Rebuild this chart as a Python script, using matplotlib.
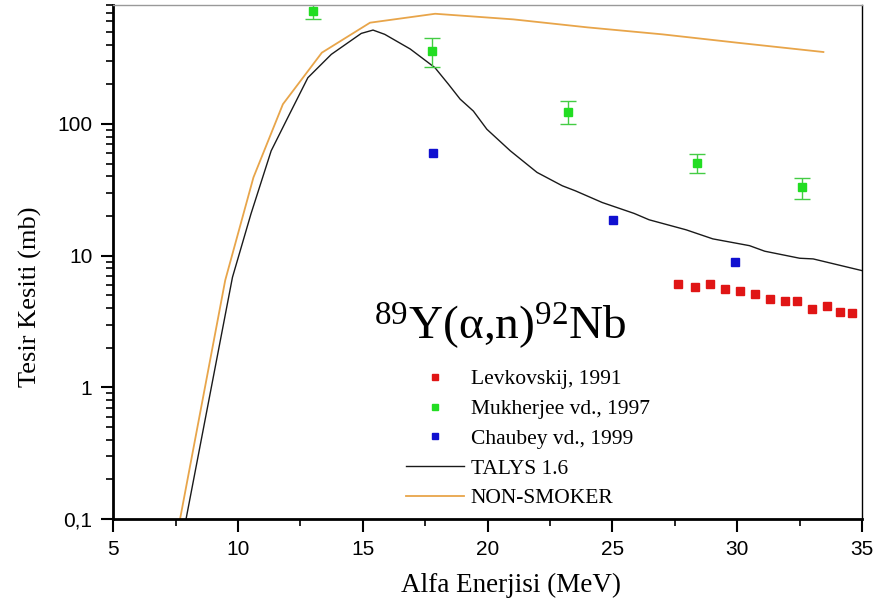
"""89Y(a,n)92Nb excitation function: experimental data vs TALYS 1.6 and NON-SMOKER."""
import matplotlib

matplotlib.use("Agg")
import matplotlib.pyplot as plt
from matplotlib.lines import Line2D
from matplotlib.ticker import FixedLocator, LogLocator, NullFormatter

plt.rcParams.update(
    {
        "font.family": "serif",
        "font.serif": ["Liberation Serif", "DejaVu Serif"],
        "mathtext.fontset": "custom",
        "mathtext.rm": "Liberation Serif",
        "mathtext.it": "Liberation Serif:italic",
        "mathtext.bf": "Liberation Serif:bold",
    }
)

levk_e = [27.62, 28.31, 28.90, 29.50, 30.11, 30.71, 31.31, 31.91, 32.40, 33.01, 33.60, 34.10, 34.61]
levk_s = [6.1, 5.82, 6.1, 5.59, 5.37, 5.07, 4.70, 4.54, 4.54, 3.95, 4.16, 3.74, 3.66]

mukh_e = [13.01, 17.78, 23.22, 28.39, 32.59]
mukh_s = [718, 357, 123, 50.7, 32.9]
mukh_lo = [94, 87, 23, 8.1, 5.9]
mukh_hi = [94, 92, 26, 8.3, 6.1]

chau_e = [17.82, 25.02, 29.91]
chau_s = [60, 18.5, 9.0]

# model calculations
talys_e = [7.92, 9.78, 10.52, 11.33, 12.0, 12.8, 13.74, 14.94, 15.41, 15.88, 16.9, 17.89,
           18.43, 18.9, 19.43, 19.97, 20.91, 21.98, 22.99, 23.52, 24.59, 25.87, 26.47, 27.95,
           29.02, 30.49, 31.10, 32.50, 33.04, 35.0]
talys_s = [0.1, 6.85, 20.7, 62.4, 112, 224, 337, 486, 515, 478, 370, 267,
           200, 154, 125, 91, 62.4, 42.8, 33.9, 31.0, 25.3, 20.9, 18.7, 15.7,
           13.4, 11.9, 10.8, 9.55, 9.44, 7.69]

nonsm_e = [7.68, 9.49, 10.62, 11.80, 13.36, 15.29, 17.9, 21.03, 24.0, 27.0, 30.0, 33.45]
nonsm_s = [0.1, 6.5, 39.2, 141, 347, 586, 685, 621, 540, 478, 413, 351]

y_ticks = [0.1, 1, 10, 100]
y_ticklabels = ["0,1", "1", "10", "100"]
x_ticks = [5, 10, 15, 20, 25, 30, 35]

RED, GREEN, BLUE = "#E01515", "#22DD22", "#1010D0"
BLACK, ORANGE = "#1a1a1a", "#E8A54A"

fig = plt.figure(figsize=(8.77, 6.10), dpi=100)
ax = fig.add_axes([0.129, 0.149, 0.854, 0.843])

ax.plot(talys_e, talys_s, color=BLACK, lw=1.0)
ax.plot(nonsm_e, nonsm_s, color=ORANGE, lw=1.3)

ax.plot(levk_e, levk_s, ls="none", marker="s", ms=5.5, color=RED)
ax.errorbar(mukh_e, mukh_s, yerr=[mukh_lo, mukh_hi], ls="none", marker="s", ms=5.5,
            color=GREEN, ecolor="#44CC44", elinewidth=1.0, capsize=6, capthick=1.0)
ax.plot(chau_e, chau_s, ls="none", marker="s", ms=5.5, color=BLUE)

ax.set_yscale("log")
ax.set_xlim(5, 35)
ax.set_ylim(0.1, 800)

ax.yaxis.set_major_locator(FixedLocator(y_ticks))
ax.set_yticklabels(y_ticklabels)
ax.yaxis.set_minor_locator(LogLocator(base=10, subs=range(2, 10)))
ax.yaxis.set_minor_formatter(NullFormatter())
ax.set_xticks(x_ticks)
ax.set_xticks([7.5, 12.5, 17.5, 22.5, 27.5, 32.5], minor=True)

for lab in ax.get_xticklabels() + ax.get_yticklabels():
    lab.set_family("Liberation Sans")
    lab.set_fontsize(15)

ax.tick_params(which="major", direction="out", length=9, width=1.5, pad=6)
ax.tick_params(which="minor", direction="out", length=5, width=1.2)
ax.tick_params(top=False, right=False)

ax.spines["left"].set_linewidth(2.0)
ax.spines["bottom"].set_linewidth(2.0)
ax.spines["right"].set_linewidth(1.0)
ax.spines["top"].set_linewidth(1.0)
ax.spines["top"].set_color("#999999")

ax.set_xlabel("Alfa Enerjisi (MeV)", fontsize=19.5)
ax.set_ylabel("Tesir Kesiti (mb)", fontsize=19)
ax.xaxis.set_label_coords(0.531, -0.104)
ax.yaxis.set_label_coords(-0.095, 0.432)

ax.text(0.517, 0.377, "$^{89}$Y(α,n)$^{92}$Nb", transform=ax.transAxes, fontsize=34,
        ha="center", va="center")

handles = [
    Line2D([], [], ls="none", marker="s", ms=4.5, color=RED),
    Line2D([], [], ls="none", marker="s", ms=4.5, color=GREEN),
    Line2D([], [], ls="none", marker="s", ms=4.5, color=BLUE),
    Line2D([], [], color=BLACK, lw=1.0),
    Line2D([], [], color=ORANGE, lw=1.3),
]
labels = ["Levkovskij, 1991", "Mukherjee vd., 1997", "Chaubey vd., 1999",
          "TALYS 1.6", "NON-SMOKER"]
ax.legend(handles, labels, loc="upper left", bbox_to_anchor=(0.38, 0.308), frameon=False,
          fontsize=15.5, handlelength=2.7, handletextpad=0.3, labelspacing=0.45,
          borderaxespad=0.0)

fig.savefig("out.png", dpi=100, facecolor="white")
